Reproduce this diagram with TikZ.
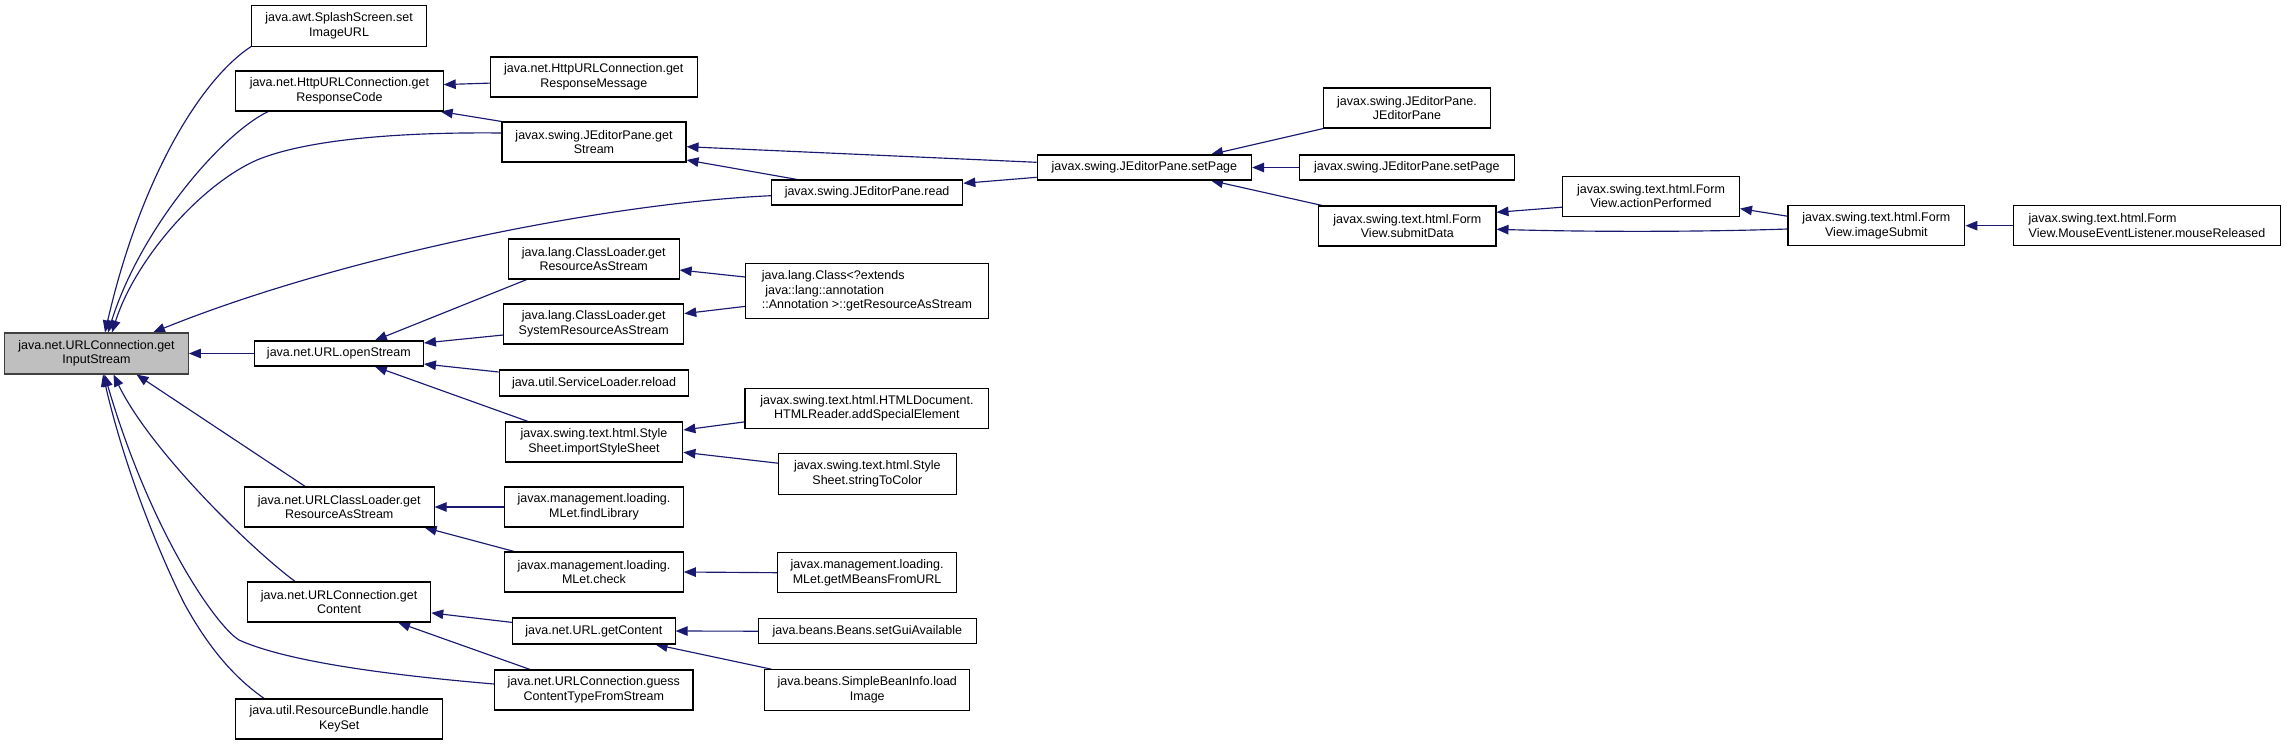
\documentclass[tikz,border=0pt]{standalone}
\usepackage{fontspec}
\setmainfont{Liberation Sans}
\usetikzlibrary{arrows.meta,calc}
\definecolor{navy}{RGB}{25,25,112}
\definecolor{rootfill}{RGB}{191,191,191}
\pgfdeclarelayer{bg}
\pgfsetlayers{bg,main}
\begin{document}
\begin{tikzpicture}[x=1pt,y=-1pt,
  box/.style={draw=black, line width=1.1pt, fill=white, rectangle, inner sep=0pt, align=center, font=\fontsize{12.5}{14.5}\selectfont},
  lbox/.style={box, align=left},
  rootbox/.style={box, fill=rootfill, draw=black!75},
  call/.style={draw=navy, line width=1.15pt, -{Triangle[length=12pt,width=9.5pt]}, fill=none}]
\useasboundingbox (0,0) rectangle (2287,745);

% column 0
\node[rootbox, minimum width=183.7pt, minimum height=41pt] (root) at (96.5,353.5) {java.net.URLConnection.get\\InputStream};

% column 1
\node[box, minimum width=175pt, minimum height=40.3pt] (splash) at (339.1,25.9) {java.awt.SplashScreen.set\\ImageURL};
\node[box, minimum width=207.5pt, minimum height=40pt] (respcode) at (339.4,91) {java.net.HttpURLConnection.get\\ResponseCode};
\node[box, minimum width=169pt, minimum height=25pt] (openstream) at (338.9,353.5) {java.net.URL.openStream};
\node[box, minimum width=189.7pt, minimum height=40pt] (urlcl) at (339.2,507) {java.net.URLClassLoader.get\\ResourceAsStream};
\node[box, minimum width=183.2pt, minimum height=40pt] (getcontent) at (339.1,602) {java.net.URLConnection.get\\Content};
\node[box, minimum width=207pt, minimum height=40pt] (keyset) at (339.2,719) {java.util.ResourceBundle.handle\\KeySet};

% column 2
\node[box, minimum width=206.7pt, minimum height=40pt] (respmsg) at (593.8,77) {java.net.HttpURLConnection.get\\ResponseMessage};
\node[box, minimum width=184pt, minimum height=40pt] (getstream) at (594,142) {javax.swing.JEditorPane.get\\Stream};
\node[box, minimum width=170.8pt, minimum height=40pt] (clres) at (593.7,259) {java.lang.ClassLoader.get\\ResourceAsStream};
\node[box, minimum width=180pt, minimum height=40pt] (clsys) at (593.7,324) {java.lang.ClassLoader.get\\SystemResourceAsStream};
\node[box, minimum width=189.7pt, minimum height=26pt] (reload) at (594,383) {java.util.ServiceLoader.reload};
\node[box, minimum width=177.7pt, minimum height=40pt] (importss) at (594,442) {javax.swing.text.html.Style\\Sheet.importStyleSheet};
\node[box, minimum width=178.6pt, minimum height=40pt] (findlib) at (594,507) {javax.management.loading.\\MLet.findLibrary};
\node[box, minimum width=178.6pt, minimum height=40pt] (check) at (594,572) {javax.management.loading.\\MLet.check};
\node[box, minimum width=162.5pt, minimum height=26pt] (urlgc) at (593.8,631) {java.net.URL.getContent};
\node[box, minimum width=198.4pt, minimum height=40pt] (guess) at (593.8,690) {java.net.URLConnection.guess\\ContentTypeFromStream};

% column 3
\node[box, minimum width=191.4pt, minimum height=25pt] (read) at (867.1,192.5) {javax.swing.JEditorPane.read};
\node[lbox, minimum width=242.9pt, minimum height=55pt] (classext) at (866.9,290.8) {java.lang.Class<?extends\\\ java::lang::annotation\\::Annotation >::getResourceAsStream};
\node[box, minimum width=243.9pt, minimum height=40pt] (addspecial) at (866.9,408.3) {javax.swing.text.html.HTMLDocument.\\HTMLReader.addSpecialElement};
\node[box, minimum width=177.5pt, minimum height=40.3pt] (stc) at (867.3,473.9) {javax.swing.text.html.Style\\Sheet.stringToColor};
\node[box, minimum width=178.9pt, minimum height=40pt] (getmbeans) at (867.1,572.7) {javax.management.loading.\\MLet.getMBeansFromURL};
\node[box, minimum width=217.8pt, minimum height=25pt] (setgui) at (867.3,631.2) {java.beans.Beans.setGuiAvailable};
\node[box, minimum width=205.2pt, minimum height=40.3pt] (loadimage) at (867.3,689.9) {java.beans.SimpleBeanInfo.load\\Image};

% column 4
\node[box, minimum width=214.3pt, minimum height=25pt] (setpage) at (1144.4,167.5) {javax.swing.JEditorPane.setPage};

% column 5
\node[box, minimum width=166.5pt, minimum height=40pt] (jep) at (1407,108) {javax.swing.JEditorPane.\\JEditorPane};
\node[box, minimum width=214.5pt, minimum height=25pt] (setpage2) at (1406.8,167.5) {javax.swing.JEditorPane.setPage};
\node[box, minimum width=177.3pt, minimum height=40pt] (submit) at (1407.3,226) {javax.swing.text.html.Form\\View.submitData};

% column 6-8
\node[box, minimum width=176.9pt, minimum height=39.7pt] (actionperf) at (1651,196.2) {javax.swing.text.html.Form\\View.actionPerformed};
\node[box, minimum width=176.9pt, minimum height=40pt] (imagesubmit) at (1876.4,225.7) {javax.swing.text.html.Form\\View.imageSubmit};
\node[lbox, minimum width=267.5pt, minimum height=40pt] (mouse) at (2147,225.7) {javax.swing.text.html.Form\\View.MouseEventListener.mouseReleased};

\begin{pgfonlayer}{bg}
% edges into root
\draw[call] (splash.south west) .. controls (200,80) and (140,180) .. ($(root.north)+(8.5,0)$);
\draw[call] ($(respcode.south west)+(33,0)$) .. controls (220,135) and (140,230) .. ($(root.north)+(11.5,0)$);
\draw[call] ($(getstream.west)+(0,-9)$) .. controls (410,132) and (310,138) .. (257,160) .. controls (200,185) and (135,260) .. ($(root.north)+(15.5,0)$);
\draw[call] ($(read.west)+(0,3.2)$) .. controls (610,203) and (345,255) .. ($(root.north)+(56.5,0)$);
\draw[call] (openstream.west) -- (root.east);
\draw[call] ($(urlcl.north)+(-34,0)$) -- ($(root.south)+(40,0)$);
\draw[call] ($(getcontent.north)+(-44,0)$) .. controls (250,548) and (150,450) .. ($(root.south)+(17,0)$);
\draw[call] ($(guess.west)+(0,-6)$) .. controls (400,676) and (290,663) .. (239,640) .. controls (215,625) and (150,530) .. ($(root.south)+(8,0)$);
\draw[call] ($(keyset.north)+(-75,0)$) .. controls (245,685) and (215,660) .. (184,603) .. controls (160,555) and (125,470) .. ($(root.south)+(6.5,0)$);

% upper part
\draw[call] ($(respmsg.west)+(0,6.1)$) -- ($(respcode.east)+(0,-6.4)$);
\draw[call] (getstream.north west) -- ($(respcode.south east)+(-3,0)$);
\draw[call] ($(setpage.west)+(0,-5.2)$) -- ($(getstream.east)+(0,4.7)$);
\draw[call] ($(read.north)+(-70,0)$) -- ($(getstream.east)+(0,18)$);
\draw[call] ($(setpage.west)+(0,9.8)$) -- ($(read.east)+(0,-9.2)$);
\draw[call] (jep.south west) -- ($(setpage.north)+(66.6,0)$);
\draw[call] (setpage2.west) -- (setpage.east);
\draw[call] ($(submit.north west)+(4,0)$) -- ($(setpage.south)+(66.6,0)$);
\draw[call] ($(actionperf.west)+(0,11)$) -- ($(submit.east)+(0,-13.7)$);
\draw[call] ($(imagesubmit.west)+(0,3.3)$) .. controls (1700,232) and (1590,232) .. ($(submit.east)+(0,3.3)$);
\draw[call] ($(imagesubmit.west)+(0,-9.5)$) -- ($(actionperf.east)+(0,12.4)$);
\draw[call] (mouse.west) -- (imagesubmit.east);

% openStream subtree
\draw[call] ($(clres.south west)+(19,0)$) -- ($(openstream.north)+(36,0)$);
\draw[call] ($(clsys.west)+(0,11)$) -- ($(openstream.east)+(0,-10.5)$);
\draw[call] ($(reload.west)+(0,-11)$) -- ($(openstream.east)+(0,10.5)$);
\draw[call] ($(importss.north)+(-66,0)$) -- ($(openstream.south)+(36,0)$);
\draw[call] ($(classext.west)+(0,-13.8)$) -- ($(clres.east)+(0,11)$);
\draw[call] ($(classext.west)+(0,15.6)$) -- ($(clsys.east)+(0,-10.4)$);
\draw[call] ($(addspecial.west)+(0,13.6)$) -- ($(importss.east)+(0,-12)$);
\draw[call] ($(stc.west)+(0,-10.7)$) -- ($(importss.east)+(0,10.3)$);

% URLClassLoader subtree
\draw[call] (findlib.west) -- (urlcl.east);
\draw[call] ($(check.north west)+(10,0)$) -- ($(urlcl.south east)+(-10,0)$);
\draw[call] (getmbeans.west) -- (check.east);

% getContent subtree
\draw[call] ($(urlgc.west)+(0,-8.6)$) -- ($(getcontent.east)+(0,10.9)$);
\draw[call] ($(guess.north)+(-63.8,0)$) -- ($(getcontent.south)+(59,0)$);
\draw[call] (setgui.west) -- (urlgc.east);
\draw[call] ($(loadimage.north west)+(7.3,0)$) -- ($(urlgc.south east)+(-20,0)$);
\end{pgfonlayer}
\end{tikzpicture}
\end{document}
